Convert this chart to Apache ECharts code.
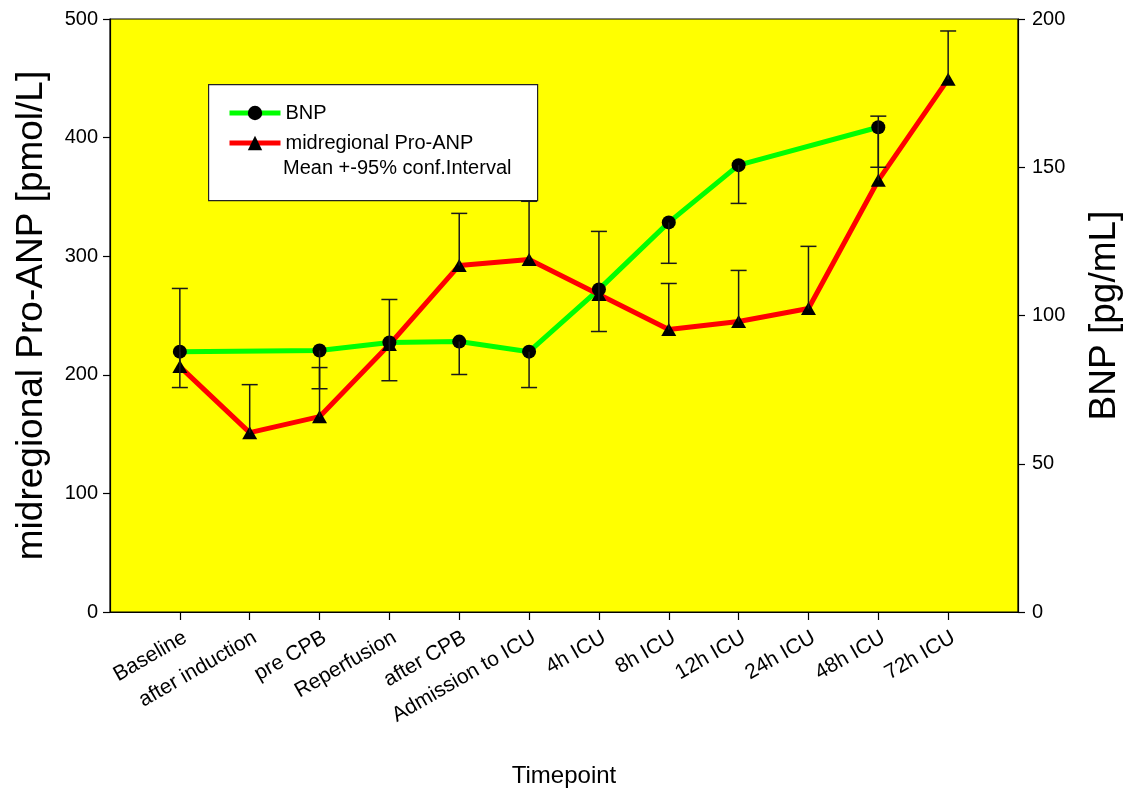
<!DOCTYPE html>
<html>
<head>
<meta charset="utf-8">
<script src="https://cdn.jsdelivr.net/npm/echarts@6/dist/echarts.min.js"></script>
<style>html,body{margin:0;padding:0;background:#fff;}#c{width:1124px;height:794px;}</style>
</head>
<body>
<div id="c"></div>
<script>
// Categories (x positions are their indices)
const timepoints = ['Baseline', 'after induction', 'pre CPB', 'Reperfusion', 'after CPB', 'Admission to ICU', '4h ICU', '8h ICU', '12h ICU', '24h ICU', '48h ICU', '72h ICU'];
// BNP [pg/mL] (right axis); null = not measured
const bnpMean  = [87.8, null, 88.2, 90.9, 91.2, 87.8, 108.8, 131.4, 150.7, null, 163.5, null];
const bnpLower = [75.7, null, 75.3, 78.0, 80.1, 75.7, 94.6, 117.6, 137.8, null, 150.0, null];
// midregional Pro-ANP [pmol/L] (left axis)
const anpMean  = [206.9, 151.2, 164.7, 225.5, 292.2, 297.3, 267.7, 238.2, 244.9, 255.9, 364.0, 449.3];
const anpUpper = [272.8, 191.7, 206.1, 263.5, 336.1, 346.3, 320.9, 277.0, 288.0, 308.3, 418.1, 489.9];
// Axis ticks
const leftTicks = [0, 100, 200, 300, 400, 500];
const rightTicks = [0, 50, 100, 150, 200];

const FONT = 'Arial, "Liberation Sans", sans-serif';
const catIdx = timepoints.map((_, i) => i);

function pairs(vals) {
  const out = [];
  vals.forEach((v, i) => { if (v !== null) out.push([i, v]); });
  return out;
}
function errPairs(mean, bound) {
  const out = [];
  mean.forEach((v, i) => { if (v !== null && bound[i] !== null) out.push([i, v, bound[i]]); });
  return out;
}
function errRender(params, api) {
  const x = api.value(0);
  const p0 = api.coord([x, api.value(1)]);
  const p1 = api.coord([x, api.value(2)]);
  const hw = 8;
  const st = { stroke: '#1a1a1a', lineWidth: 1.5 };
  return {
    type: 'group',
    children: [
      { type: 'line', shape: { x1: p0[0], y1: p0[1], x2: p1[0], y2: p1[1] }, style: st },
      { type: 'line', shape: { x1: p1[0] - hw, y1: p1[1], x2: p1[0] + hw, y2: p1[1] }, style: st }
    ]
  };
}

const chart = echarts.init(document.getElementById('c'), null, { renderer: 'canvas' });
const axisLine = { show: true, onZero: false, lineStyle: { color: '#000', width: 1.2 } };
const axisTick = { show: true, inside: false, length: 7, lineStyle: { color: '#000', width: 1.2 } };

chart.setOption({
  animation: false,
  backgroundColor: '#ffffff',
  grid: {
    left: 110, right: 106, top: 19, bottom: 182,
    outerBoundsMode: 'none', containLabel: false,
    show: true, backgroundColor: '#ffff00', borderColor: '#000', borderWidth: 1.2
  },
  legend: {
    show: true,
    orient: 'vertical',
    left: 222, top: 98,
    itemWidth: 51, itemHeight: 18, itemGap: 10,
    data: ['BNP', 'midregional Pro-ANP'],
    lineStyle: { width: 5 },
    textStyle: { fontFamily: FONT, fontSize: 20, color: '#000' }
  },
  graphic: [
    { type: 'rect', left: 208, top: 84, shape: { width: 329, height: 116 }, style: { fill: '#fff', stroke: '#222', lineWidth: 1.2 }, z: 1, zlevel: 0 },
    { type: 'text', left: 283, top: 158, style: { text: 'Mean +-95% conf.Interval', font: '20px ' + FONT, fill: '#000' }, z: 10 }
  ],
  xAxis: {
    type: 'value', min: -1, max: 12, interval: 1,
    splitLine: { show: false },
    axisLine: axisLine,
    axisTick: { show: true, length: 8, customValues: catIdx, lineStyle: { color: '#000', width: 1.2 } },
    axisLabel: {
      rotate: 30, margin: 15, verticalAlign: 'top', fontFamily: FONT, fontSize: 21, color: '#000',
      customValues: catIdx,
      formatter: v => (v >= 0 && v < timepoints.length) ? timepoints[v] : ''
    },
    name: 'Timepoint', nameLocation: 'middle', nameGap: 152,
    nameTextStyle: { fontFamily: FONT, fontSize: 24, color: '#000' }
  },
  yAxis: [
    {
      type: 'value', min: leftTicks[0], max: leftTicks[leftTicks.length - 1], interval: 100,
      position: 'left', splitLine: { show: false },
      axisLine: axisLine, axisTick: axisTick,
      axisLabel: { fontFamily: FONT, fontSize: 20, color: '#000', margin: 12 },
      name: 'midregional Pro-ANP [pmol/L]', nameLocation: 'middle', nameGap: 60,
      nameTextStyle: { fontFamily: FONT, fontSize: 37, color: '#000' }
    },
    {
      type: 'value', min: rightTicks[0], max: rightTicks[rightTicks.length - 1], interval: 50,
      position: 'right', splitLine: { show: false },
      axisLine: axisLine, axisTick: axisTick,
      axisLabel: { fontFamily: FONT, fontSize: 20, color: '#000', margin: 14 },
      name: 'BNP [pg/mL]', nameLocation: 'middle', nameGap: 68,
      nameTextStyle: { fontFamily: FONT, fontSize: 37, color: '#000' }
    }
  ],
  series: [
    {
      type: 'custom', name: 'BNP err', yAxisIndex: 1, renderItem: errRender,
      data: errPairs(bnpMean, bnpLower), encode: { x: 0, y: [1, 2] }, z: 4, silent: true
    },
    {
      type: 'custom', name: 'ANP err', yAxisIndex: 0, renderItem: errRender,
      data: errPairs(anpMean, anpUpper), encode: { x: 0, y: [1, 2] }, z: 4, silent: true
    },
    {
      type: 'line', name: 'BNP', yAxisIndex: 1, data: pairs(bnpMean),
      symbol: 'circle', symbolSize: 14,
      lineStyle: { color: '#00ff00', width: 5 },
      itemStyle: { color: '#000' }, z: 3
    },
    {
      type: 'line', name: 'midregional Pro-ANP', yAxisIndex: 0, data: pairs(anpMean),
      symbol: 'triangle', symbolSize: [15, 13],
      lineStyle: { color: '#ff0000', width: 5 },
      itemStyle: { color: '#000' }, z: 3
    }
  ]
});
</script>
</body>
</html>
